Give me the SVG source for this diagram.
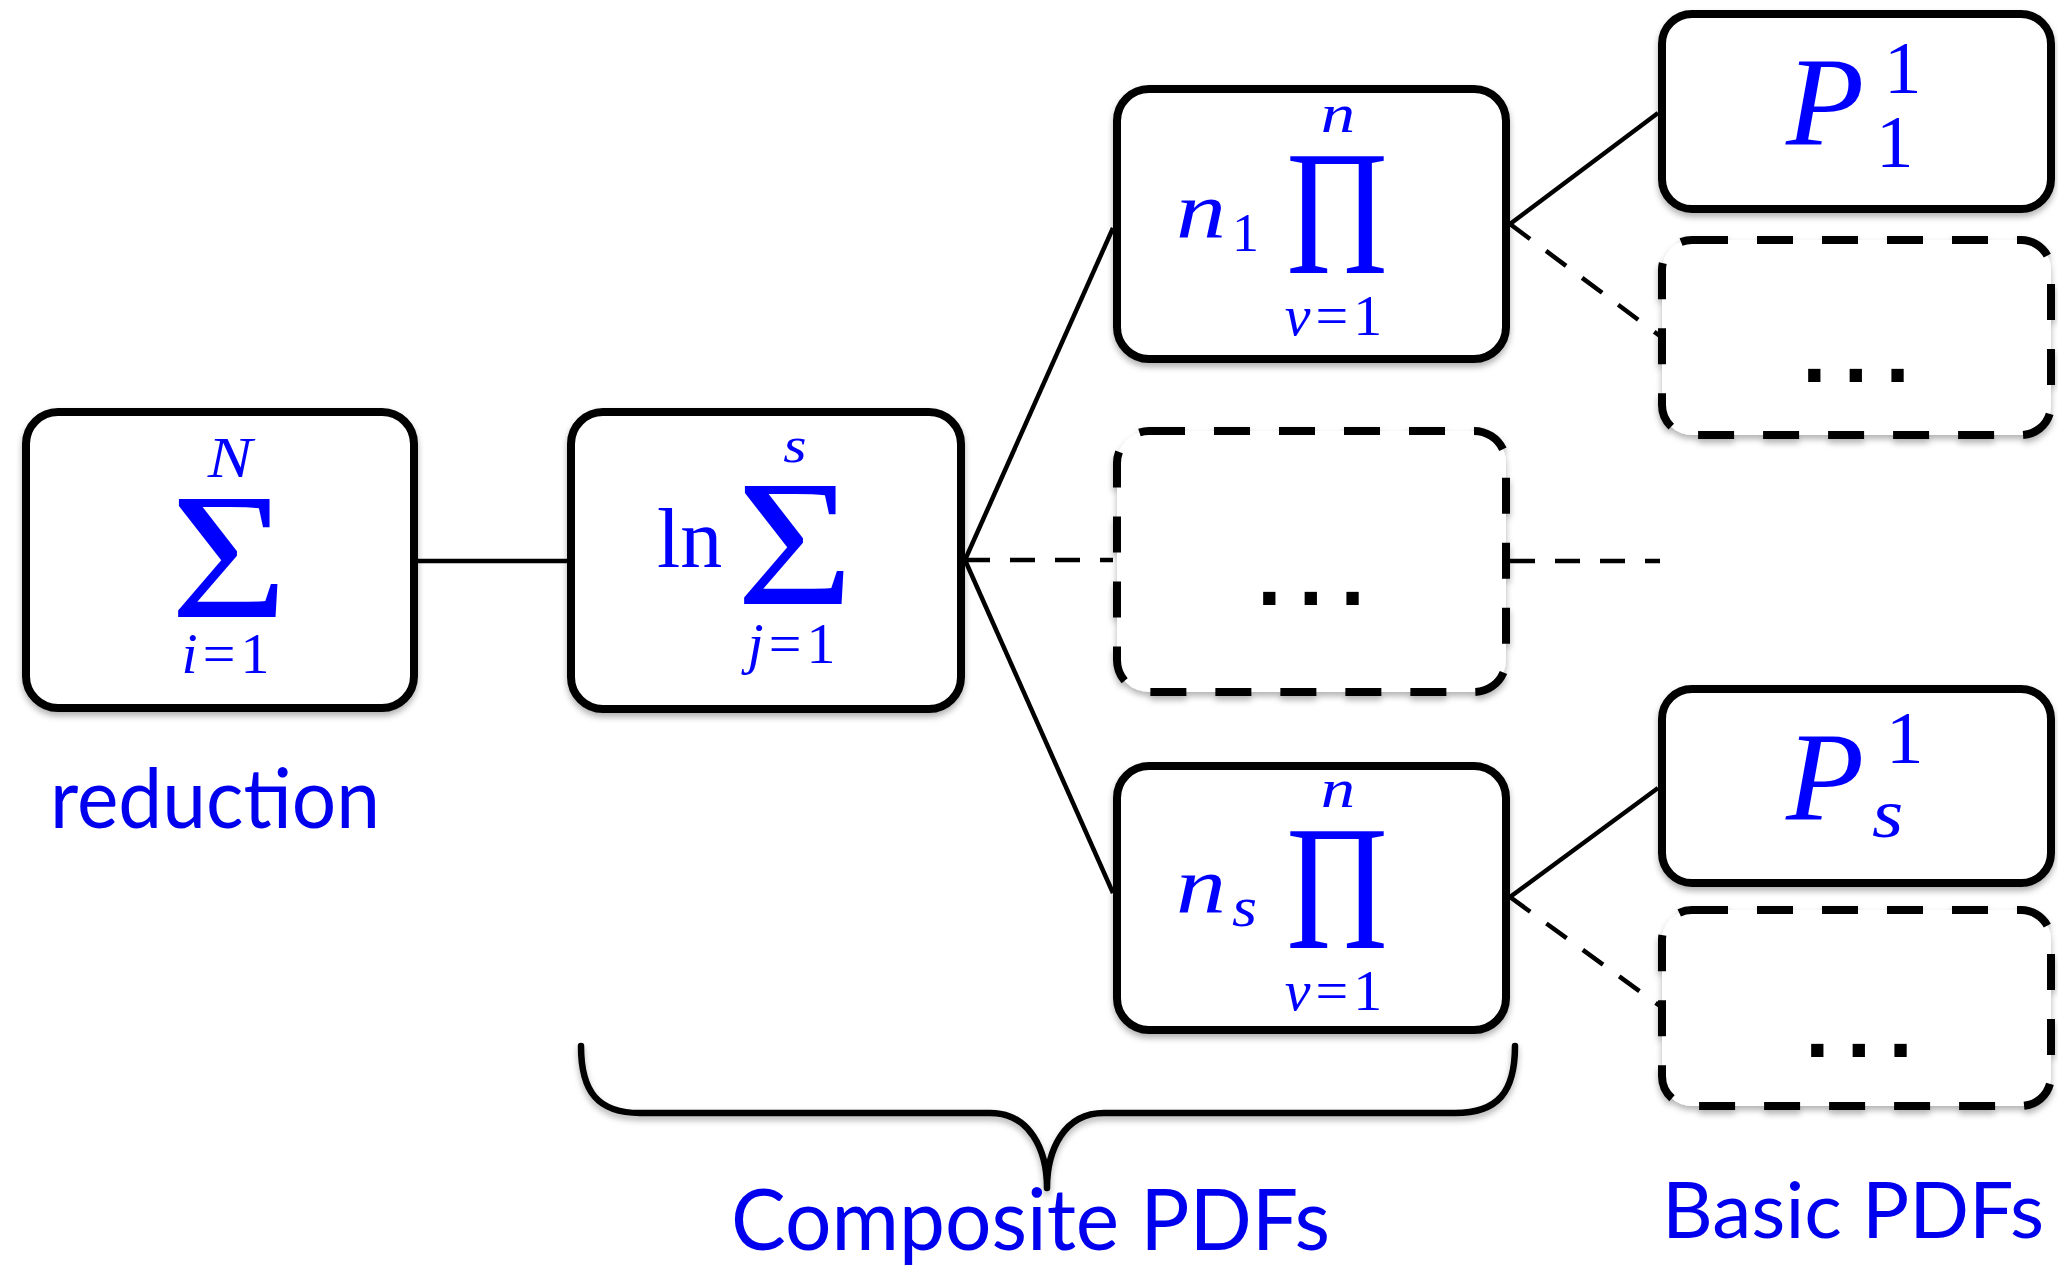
<svg xmlns="http://www.w3.org/2000/svg" width="2058" height="1272" viewBox="0 0 2058 1272">
  <defs>
    <filter id="shadow" x="-10%" y="-10%" width="120%" height="130%">
      <feDropShadow dx="0" dy="4" stdDeviation="3" flood-color="#000" flood-opacity="0.3"/>
    </filter>
    <style>
      .box { fill: #ffffff; stroke: #000; stroke-width: 8; }
      .dbox { fill: #ffffff; stroke: #000; stroke-width: 8; stroke-dasharray: 36 29; }
      .edge { fill: none; stroke: #000; stroke-width: 4.5; }
      .dedge { fill: none; stroke: #000; stroke-width: 4.5; stroke-dasharray: 25 20; }
      .brace { fill: none; stroke: #000; stroke-width: 6.5; stroke-linecap: round; stroke-linejoin: round; }
      .m { font-family: "Liberation Serif", "DejaVu Serif", serif; fill: #0000ff; }
      .mi { font-family: "Liberation Serif", "DejaVu Serif", serif; font-style: italic; fill: #0000ff; }
      .lbl { font-family: Lato, "Open Sans", "Liberation Sans", sans-serif; fill: #0000ee; }
      .dots { font-family: "DejaVu Sans", sans-serif; font-weight: bold; font-size: 70px; letter-spacing: 15px; fill: #000; }
    </style>
  </defs>

  <rect width="2058" height="1272" fill="#ffffff"/>

  <g id="connectors">
    <path class="edge" d="M418,561 L567,561"/>
    <path class="edge" d="M965,560 L1113,228"/>
    <path class="dedge" d="M965,560 L1113,560"/>
    <path class="edge" d="M965,560 L1113,893"/>
    <path class="edge" d="M1510,224 L1658,113"/>
    <path class="dedge" d="M1510,224 L1660,336"/>
    <path class="dedge" d="M1510,561 L1660,561"/>
    <path class="edge" d="M1510,897 L1658,788"/>
    <path class="dedge" d="M1510,897 L1660,1006"/>
  </g>

  <g id="node-reduction">
    <rect class="box" x="26" y="412" width="388" height="296" rx="32" filter="url(#shadow)"/>
    <text class="mi" transform="translate(230,477) scale(1.15,1)" font-size="58" text-anchor="middle">N</text>
    <text class="m" transform="translate(229,617) scale(1.12,1)" font-size="180" text-anchor="middle">Σ</text>
    <text class="m" x="228" y="673" font-size="58" text-anchor="middle" letter-spacing="5"><tspan class="mi">i</tspan>=1</text>
  </g>

  <g id="node-lnsum">
    <rect class="box" x="571" y="412" width="390" height="297" rx="32" filter="url(#shadow)"/>
    <text class="m" x="657" y="567" font-size="84">ln</text>
    <text class="mi" transform="translate(795,462) scale(1.2,1)" font-size="50" text-anchor="middle">s</text>
    <text class="m" transform="translate(795,604) scale(1.12,1)" font-size="180" text-anchor="middle">Σ</text>
    <text class="m" x="794" y="663" font-size="58" text-anchor="middle" letter-spacing="5"><tspan class="mi">j</tspan>=1</text>
  </g>

  <g id="node-prod1">
    <rect class="box" x="1117" y="89" width="389" height="270" rx="32" filter="url(#shadow)"/>
    <text class="mi" transform="translate(1338,132) scale(1.25,1)" font-size="55" text-anchor="middle">n</text>
    <text class="m" transform="translate(1337,273) scale(0.79,1)" font-size="178" text-anchor="middle">Π</text>
    <text class="mi" transform="translate(1176,237) scale(1.25,1)" font-size="80">n</text>
    <text class="m" x="1232" y="251" font-size="54">1</text>
    <text class="m" x="1336" y="335" font-size="58" text-anchor="middle" letter-spacing="5"><tspan class="mi">v</tspan>=1</text>
  </g>

  <g id="node-dots-mid">
    <rect class="dbox" x="1117" y="431" width="389" height="261" rx="32" filter="url(#shadow)"/>
    <text class="dots" x="1256" y="605">...</text>
  </g>

  <g id="node-prods">
    <rect class="box" x="1117" y="766" width="389" height="264" rx="32" filter="url(#shadow)"/>
    <text class="mi" transform="translate(1338,807) scale(1.25,1)" font-size="55" text-anchor="middle">n</text>
    <text class="m" transform="translate(1337,948) scale(0.79,1)" font-size="178" text-anchor="middle">Π</text>
    <text class="mi" transform="translate(1176,912) scale(1.25,1)" font-size="80">n</text>
    <text class="mi" transform="translate(1232,926) scale(1.15,1)" font-size="56">s</text>
    <text class="m" x="1336" y="1010" font-size="58" text-anchor="middle" letter-spacing="5"><tspan class="mi">v</tspan>=1</text>
  </g>

  <g id="node-p11">
    <rect class="box" x="1662" y="14" width="389" height="195" rx="30" filter="url(#shadow)"/>
    <text class="mi" x="1786" y="145" font-size="128">P</text>
    <text class="m" x="1884" y="93" font-size="75">1</text>
    <text class="m" x="1876" y="167" font-size="75">1</text>
  </g>

  <g id="node-dots-top">
    <rect class="dbox" x="1662" y="240" width="389" height="195" rx="30" filter="url(#shadow)"/>
    <text class="dots" x="1801" y="382">...</text>
  </g>

  <g id="node-ps1">
    <rect class="box" x="1662" y="689" width="389" height="194" rx="30" filter="url(#shadow)"/>
    <text class="mi" x="1786" y="820" font-size="128">P</text>
    <text class="m" x="1886" y="763" font-size="75">1</text>
    <text class="mi" transform="translate(1872,837) scale(1.15,1)" font-size="70">s</text>
  </g>

  <g id="node-dots-bottom">
    <rect class="dbox" x="1662" y="910" width="389" height="196" rx="30" filter="url(#shadow)"/>
    <text class="dots" x="1804" y="1057">...</text>
  </g>

  <g id="brace">
    <path class="brace" filter="url(#shadow)" d="M581,1046 C581,1092 598,1113 640,1113 L990,1113 C1030,1113 1047,1150 1047,1188 C1047,1150 1064,1113 1104,1113 L1455,1113 C1498,1113 1515,1092 1515,1046"/>
  </g>

  <g id="labels">
    <text class="lbl" x="50" y="828" font-size="84" textLength="330" lengthAdjust="spacingAndGlyphs">reduction</text>
    <text class="lbl" x="731" y="1250" font-size="86" textLength="599" lengthAdjust="spacingAndGlyphs">Composite PDFs</text>
    <text class="lbl" x="1662" y="1238" font-size="78" textLength="382" lengthAdjust="spacingAndGlyphs">Basic PDFs</text>
  </g>
</svg>
